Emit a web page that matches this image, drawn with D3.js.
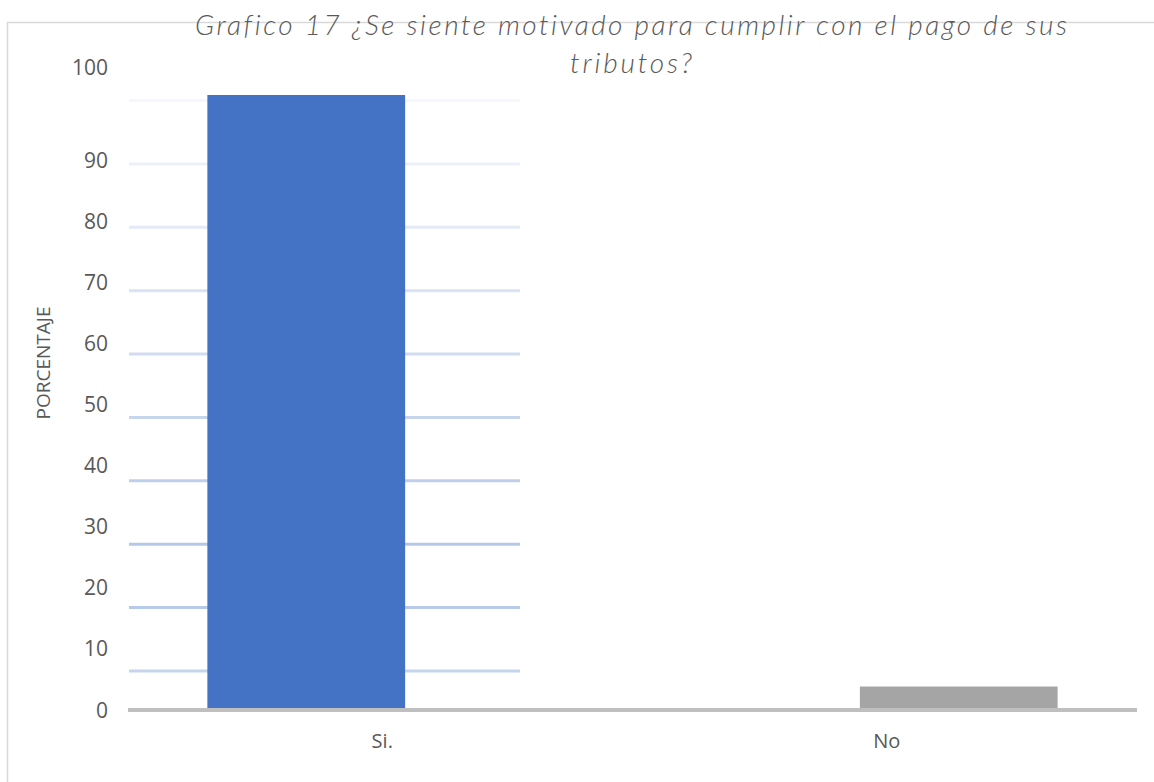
<!DOCTYPE html>
<html>
<head>
<meta charset="utf-8">
<script src="https://cdn.jsdelivr.net/npm/d3@7/dist/d3.min.js"></script>
<style>
  html, body { margin: 0; padding: 0; background: #fff; }
  svg { display: block; }
  text { font-variant-ligatures: none; }
</style>
</head>
<body>
<svg id="chart" width="1154" height="782"></svg>
<script>
// ---- data ----
const titleLines = ["Grafico 17 ¿Se siente motivado para cumplir con el pago de sus", "tributos?"];
const yAxisTitle = "PORCENTAJE";
const categories = ["Si.", "No"];
const seriesNames = ["Si", "No"];
const seriesSi = [100, 0];
const seriesNo = [0, 3.5];
const yTicks = [0, 10, 20, 30, 40, 50, 60, 70, 80, 90, 100];
const gridValues = [10, 20, 30, 40, 50, 60, 70, 80, 90, 100];

// ---- styles ----
const seriesColors = ["#4472C4", "#A5A5A5"];
const textColor = "#595959";
const font = "'Open Sans', Lato, 'DejaVu Sans', sans-serif";
const titleFont = "Lato, 'Open Sans', sans-serif";

const svg = d3.select("#chart");

// outer frame
svg.append("rect")
  .attr("x", 7.5).attr("y", 22.5)
  .attr("width", 1200).attr("height", 900)
  .attr("fill", "none").attr("stroke", "#d9d9d9").attr("stroke-width", 1.5);

// scales
const x0 = d3.scaleBand().domain(categories).range([128, 1137]);
const x1 = d3.scalePoint().domain(seriesNames).range([-74, 74]);
const barWidth = x0.bandwidth() * 0.392;
const y = d3.scaleLinear().domain([0, 100]).range([708, 95]);
const yLabel = d3.scaleLinear().domain([0, 10, 90, 100]).range([710, 648, 160, 67]);
const yGrid = d3.scaleLinear().domain([10, 100]).range([671, 100.5]);
const gridColor = d3.scaleLinear().domain([10, 25, 100]).range(["#c6d5ee", "#b1c5e6", "#f5f7fb"]);

// gridlines (left part only, as in reference)
svg.append("g").selectAll("line").data(gridValues).join("line")
  .attr("x1", 129).attr("x2", 520)
  .attr("y1", d => yGrid(d)).attr("y2", d => yGrid(d))
  .attr("stroke", d => gridColor(d)).attr("stroke-width", 3);

// bars
const series = [
  { name: seriesNames[0], values: seriesSi, color: seriesColors[0] },
  { name: seriesNames[1], values: seriesNo, color: seriesColors[1] }
];
series.forEach(s => {
  svg.append("g").selectAll("rect")
    .data(categories.map((c, i) => ({ cat: c, v: s.values[i] })).filter(d => d.v > 0))
    .join("rect")
    .attr("x", d => x0(d.cat) + x0.bandwidth() / 2 + x1(s.name) - barWidth / 2)
    .attr("width", barWidth)
    .attr("y", d => y(d.v))
    .attr("height", d => y(0) - y(d.v))
    .attr("fill", s.color);
});

// baseline
svg.append("line")
  .attr("x1", 128).attr("x2", 1137)
  .attr("y1", 710).attr("y2", 710)
  .attr("stroke", "#bfbfbf").attr("stroke-width", 4);

// y tick labels
const yAxis = d3.axisLeft(yLabel).tickValues(yTicks).tickSize(0).tickPadding(0);
const gy = svg.append("g").attr("transform", "translate(108,0)").call(yAxis);
gy.select(".domain").remove();
gy.selectAll("text")
  .attr("fill", textColor).attr("font-family", font).attr("font-size", 21)
  .attr("dy", "0.35em");

// x labels
const xAxis = d3.axisBottom(x0).tickSize(0).tickPadding(0);
const gx = svg.append("g").attr("transform", "translate(2,0)").call(xAxis);
gx.select(".domain").remove();
gx.selectAll("text")
  .attr("fill", textColor).attr("font-family", font).attr("font-size", 20)
  .attr("y", 748).attr("dy", 0);

// y axis title
svg.append("text")
  .attr("transform", "translate(50,363) rotate(-90)")
  .attr("text-anchor", "middle")
  .attr("fill", textColor).attr("font-family", font).attr("font-size", 19)
  .text(yAxisTitle);

// title
const titleWidths = [872, 122];
const titleY = [35, 73];
titleLines.forEach((t, i) => {
  svg.append("text")
    .attr("x", 631 - titleWidths[i] / 2).attr("y", titleY[i])
    .attr("textLength", titleWidths[i]).attr("lengthAdjust", "spacing")
    .attr("fill", textColor).attr("font-family", titleFont)
    .attr("font-style", "italic").attr("font-weight", 300).attr("font-size", 28)
    .text(t);
});
</script>
</body>
</html>
